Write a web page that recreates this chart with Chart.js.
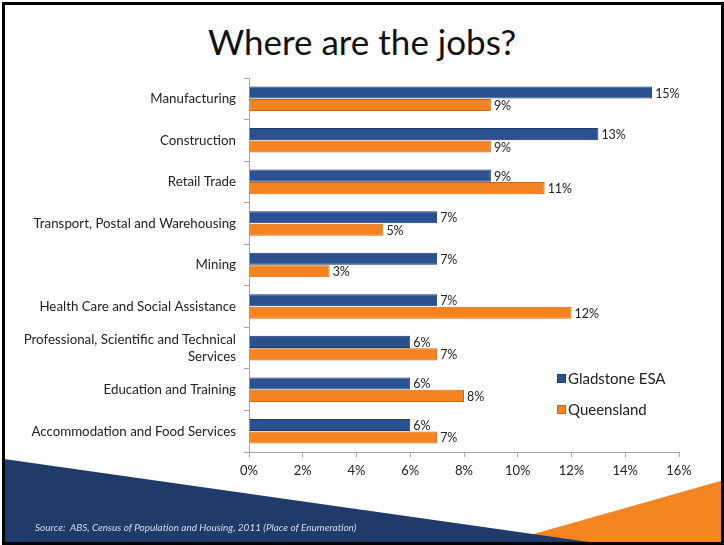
<!DOCTYPE html>
<html>
<head>
<meta charset="utf-8">
<script src="https://cdn.jsdelivr.net/npm/chart.js@4/dist/chart.umd.min.js"></script>
<style>
  html, body { margin: 0; padding: 0; background: #fff; }
  #slide { position: relative; width: 724px; height: 545px; overflow: hidden; font-family: Lato, 'Open Sans', sans-serif; }
  #frame { position: absolute; left: 2px; top: 2px; width: 722px; height: 543px; box-sizing: border-box; border: 3px solid #000; z-index: 5; pointer-events: none; }
  #deco { position: absolute; left: 0; top: 0; }
  #title { position: absolute; left: 0; width: 724px; top: 20px; text-align: center; font-size: 35px; color: #111; }
  #chart { position: absolute; left: 0; top: 0; }
  #legend { position: absolute; left: 557px; top: 369px; font-size: 15px; color: #222; }
  #legend .item { height: 31px; display: flex; align-items: flex-start; }
  #legend .swatch { width: 9px; height: 9px; margin: 5px 2px 0 0; box-sizing: border-box; }
  #source { position: absolute; left: 35px; top: 521px; font-size: 10px; font-style: italic; color: #d4dbe8; }
</style>
</head>
<body>
<div id="slide">
  <svg id="deco" width="724" height="545">
    <polygon points="495,545 724,480 724,545" fill="#f5851f"/>
    <polygon points="4,459 610,545 4,545" fill="#1f3b69"/>
  </svg>
  <div id="title">Where are the jobs?</div>
  <canvas id="chart" width="724" height="545"></canvas>
  <div id="legend"></div>
  <div id="source">Source:&nbsp; ABS, Census of Population and Housing, 2011 (Place of Enumeration)</div>
  <div id="frame"></div>
</div>
<script>
// industries, top to bottom
const industries = [
  'Manufacturing',
  'Construction',
  'Retail Trade',
  'Transport, Postal and Warehousing',
  'Mining',
  'Health Care and Social Assistance',
  ['Professional, Scientific and Technical', 'Services'],
  'Education and Training',
  'Accommodation and Food Services'
]

// share of employment, percent
const gladstone = [15, 13, 9, 7, 7, 7, 6, 6, 6]
const queensland = [9, 9, 11, 5, 3, 12, 7, 8, 7]

const xTicks = [0, 2, 4, 6, 8, 10, 12, 14, 16]

const series = [
  { label: 'Gladstone ESA', data: gladstone, fill: '#2c5190', edge: '#1d3a6b' },
  { label: 'Queensland', data: queensland, fill: '#f5831f', edge: '#c8650f' }
]

const font = 'Lato, "Open Sans", sans-serif'

// percent labels just past the end of each bar
const valueLabels = {
  id: 'valueLabels',
  afterDatasetsDraw (chart) {
    const ctx = chart.ctx
    ctx.save()
    ctx.font = '12.5px ' + font
    ctx.fillStyle = '#222'
    ctx.textBaseline = 'middle'
    chart.data.datasets.forEach((ds, i) => {
      chart.getDatasetMeta(i).data.forEach((bar, j) => {
        ctx.fillText(ds.data[j] + '%', bar.x + 3, bar.y + 1)
      })
    })
    ctx.restore()
  }
}

new Chart(document.getElementById('chart').getContext('2d'), {
  type: 'bar',
  data: {
    labels: industries,
    datasets: series.map(s => ({
      label: s.label,
      data: s.data,
      backgroundColor: s.fill,
      borderColor: s.edge,
      borderWidth: 1,
      borderSkipped: 'left',
      categoryPercentage: 0.6,
      barPercentage: 0.97
    }))
  },
  options: {
    indexAxis: 'y',
    responsive: false,
    animation: false,
    layout: { padding: { top: 78, right: 45, left: 0, bottom: 0 } },
    plugins: {
      legend: { display: false },
      tooltip: { enabled: false }
    },
    scales: {
      x: {
        min: 0,
        max: 16,
        afterBuildTicks: axis => { axis.ticks = xTicks.map(v => ({ value: v })) },
        afterFit: axis => { axis.height = 93 },
        border: { display: true, color: '#a6a6a6' },
        grid: { drawOnChartArea: false, drawTicks: true, tickLength: 5, color: '#a6a6a6' },
        ticks: { color: '#222', padding: 6, font: { family: font, size: 13 }, callback: v => v + '%' }
      },
      y: {
        afterFit: axis => { axis.width = 249 },
        border: { display: true, color: '#a6a6a6' },
        grid: { drawOnChartArea: false, drawTicks: true, tickLength: 5, offset: true, color: '#a6a6a6' },
        ticks: { color: '#222', padding: 8, font: { family: font, size: 13.3, lineHeight: 1.3 } }
      }
    }
  },
  plugins: [valueLabels]
})

// legend beside the lower bars
const legend = document.getElementById('legend')
series.forEach(s => {
  const item = document.createElement('div')
  item.className = 'item'
  item.innerHTML = '<span class="swatch" style="background:' + s.fill + ';border:1px solid ' + s.edge + '"></span>' + s.label
  legend.appendChild(item)
})
</script>
</body>
</html>
